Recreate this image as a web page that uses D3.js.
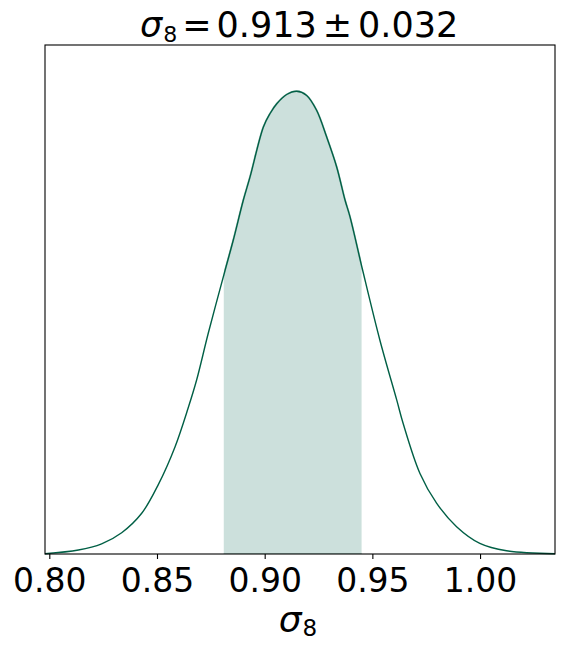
<!DOCTYPE html>
<html>
<head>
<meta charset="utf-8">
<script src="https://cdn.jsdelivr.net/npm/d3@7"></script>
<style>
  html, body { margin: 0; padding: 0; background: #fff; }
  svg { display: block; }
  text { font-family: "DejaVu Sans", sans-serif; fill: #000; }
</style>
</head>
<body>
<svg id="chart" width="564" height="648"></svg>
<script>
// ---- data ----
const sigma8Values = [0.798, 0.8135, 0.8243, 0.8336, 0.8429, 0.8506, 0.8584, 0.8645, 0.8684, 0.8738,
  0.8816, 0.8854, 0.8901, 0.8932, 0.8994, 0.9025, 0.9056, 0.9102, 0.9149, 0.9195, 0.9241, 0.9288,
  0.9334, 0.9373, 0.9396, 0.9453, 0.9535, 0.9613, 0.9643, 0.9721, 0.9798, 0.9891,
  0.9999, 1.0123, 1.0348];
const densityValues = [0.0006, 0.0086, 0.022, 0.046, 0.088, 0.150, 0.232, 0.316, 0.376, 0.477,
  0.613, 0.678, 0.765, 0.815, 0.923, 0.952, 0.973, 0.993, 1.0, 0.991, 0.959, 0.901,
  0.837, 0.765, 0.729, 0.617, 0.462, 0.333, 0.282, 0.174, 0.110, 0.059,
  0.023, 0.007, 0.0006];
const meanValue = 0.913;
const sigmaValue = 0.032;
const xTickValues = [0.80, 0.85, 0.90, 0.95, 1.00];
const xTickLabels = ["0.80", "0.85", "0.90", "0.95", "1.00"];
const xDomain = [0.798, 1.0348];
const yDomain = [0, 1.1];

(function () {
// ---- layout ----
const svg = d3.select("#chart");
const mLeft = 45, mRight = 555, mTop = 45, mBottom = 554;
const x = d3.scaleLinear().domain(xDomain).range([mLeft, mRight]);
const y = d3.scaleLinear().domain(yDomain).range([mBottom, mTop]);

const pts = sigma8Values.map((v, i) => ({ x: v, y: densityValues[i] }));

const lineColor = "#005f45";
const fillColor = "#cce0dc";

const lo = meanValue - sigmaValue, hi = meanValue + sigmaValue;

// clip for 1-sigma band
svg.append("defs").append("clipPath").attr("id", "band")
  .append("rect")
  .attr("x", x(lo))
  .attr("y", mTop)
  .attr("width", x(hi) - x(lo))
  .attr("height", mBottom - mTop);

const curve = d3.curveCatmullRom.alpha(0.5);
const area = d3.area().x(d => x(d.x)).y0(y(0)).y1(d => y(d.y)).curve(curve);
svg.append("path").datum(pts)
  .attr("d", area)
  .attr("fill", fillColor)
  .attr("stroke", "#a9c9c1")
  .attr("stroke-width", 2)
  .attr("clip-path", "url(#band)");

const line = d3.line().x(d => x(d.x)).y(d => y(d.y)).curve(curve);
svg.append("path").datum(pts)
  .attr("d", line)
  .attr("fill", "none")
  .attr("stroke", lineColor)
  .attr("stroke-width", 1.4);

// frame
svg.append("rect")
  .attr("x", mLeft).attr("y", mTop)
  .attr("width", mRight - mLeft).attr("height", mBottom - mTop)
  .attr("fill", "none").attr("stroke", "#000").attr("stroke-width", 1.1);

// x axis
const xAxis = d3.axisBottom(x)
  .tickValues(xTickValues)
  .tickFormat((d, i) => xTickLabels[i])
  .tickSize(5).tickPadding(10);
const gx = svg.append("g").attr("transform", `translate(0,${mBottom})`).call(xAxis);
gx.select(".domain").remove();
gx.selectAll(".tick line").attr("stroke", "#000").attr("stroke-width", 1.1);
gx.selectAll(".tick text")
  .attr("font-family", "DejaVu Sans")
  .attr("font-size", 33)
  .attr("fill", "#000");

// x label: sigma_8
const xl = svg.append("text")
  .attr("x", (mLeft + mRight) / 2 - 2).attr("y", 632)
  .attr("text-anchor", "middle")
  .attr("font-size", 36);
xl.append("tspan").attr("font-style", "italic").text("σ");
xl.append("tspan").attr("font-size", 23).attr("dy", 4).attr("dx", 1).text("8");

// title
const tt = svg.append("text")
  .attr("x", 140).attr("y", 37)
  .attr("font-size", 35);
tt.append("tspan").attr("font-style", "italic").text("σ");
tt.append("tspan").attr("font-size", 22).attr("dy", 5).attr("dx", 1).text("8");
tt.append("tspan").attr("dy", -5).attr("dx", 5).text("=");
tt.append("tspan").attr("dx", 5).text(meanValue.toFixed(3));
tt.append("tspan").attr("dx", 6).text("±");
tt.append("tspan").attr("dx", 6).text(sigmaValue.toFixed(3));
})();
</script>
</body>
</html>
